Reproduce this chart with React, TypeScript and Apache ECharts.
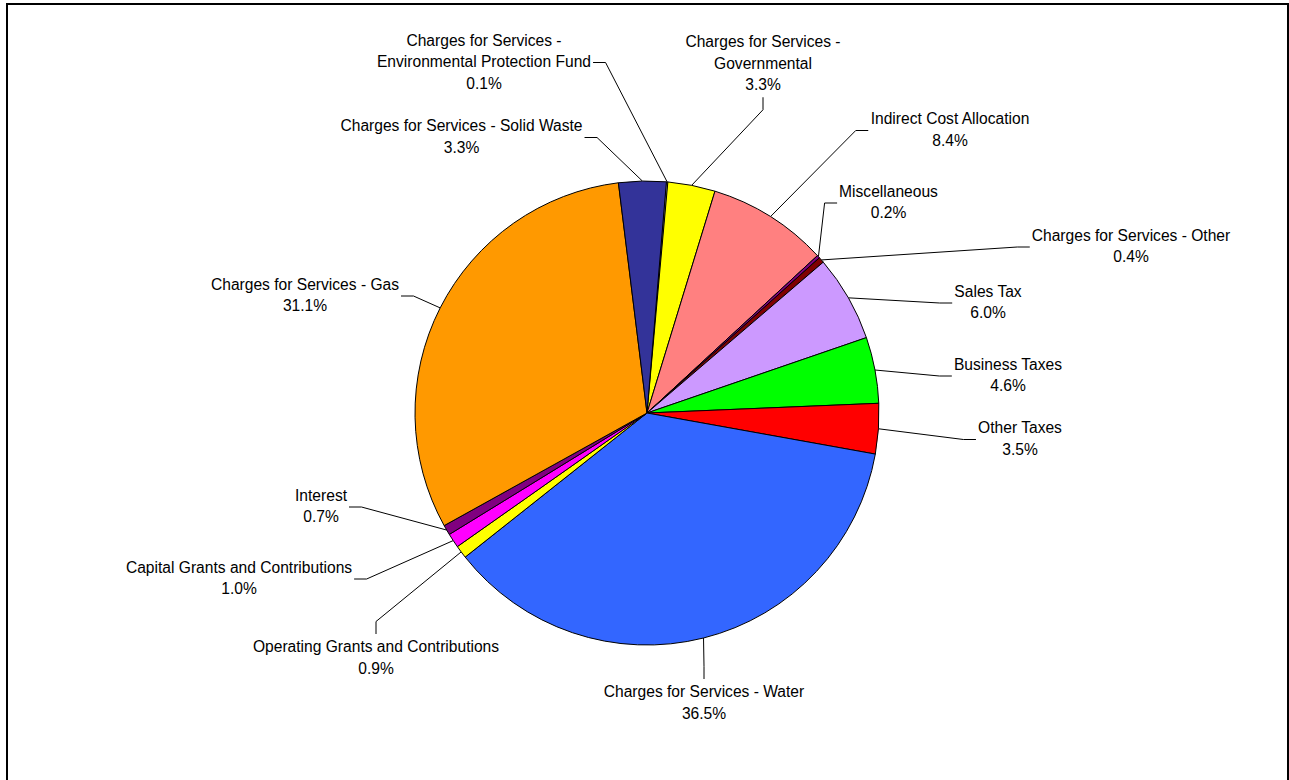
import React, { useEffect, useRef } from "react";
import * as echarts from "echarts";

// Slices, clockwise from the top
const NAMES = [
  "Charges for Services - Environmental Protection Fund",
  "Charges for Services - Governmental",
  "Indirect Cost Allocation",
  "Miscellaneous",
  "Charges for Services - Other",
  "Sales Tax",
  "Business Taxes",
  "Other Taxes",
  "Charges for Services - Water",
  "Operating Grants and Contributions",
  "Capital Grants and Contributions",
  "Interest",
  "Charges for Services - Gas",
  "Charges for Services - Solid Waste",
];
const VALUES = [0.1, 3.3, 8.4, 0.2, 0.4, 6.0, 4.6, 3.5, 36.5, 0.9, 1.0, 0.7, 31.1, 3.3];
const LABEL_NAMES = [
  "Charges for Services -\nEnvironmental Protection Fund",
  "Charges for Services -\nGovernmental",
  "Indirect Cost Allocation",
  "Miscellaneous",
  "Charges for Services - Other",
  "Sales Tax",
  "Business Taxes",
  "Other Taxes",
  "Charges for Services - Water",
  "Operating Grants and Contributions",
  "Capital Grants and Contributions",
  "Interest",
  "Charges for Services - Gas",
  "Charges for Services - Solid Waste",
];
const COLORS = [
  "#FFFFFF", "#FFFF00", "#FF8080", "#800080", "#800000", "#CC99FF", "#00FF00",
  "#FF0000", "#3366FF", "#FFFF00", "#FF00FF", "#800080", "#FF9900", "#333399",
];

// layout (label centres in px)
const LABEL_POS: [number, number][] = [
  [484, 61.5], [763, 63], [950, 129.5], [888.5, 202], [1131, 246], [988, 302],
  [1008, 375], [1020, 438.5], [704, 702.5], [376, 657.5], [239, 578], [321, 506],
  [305, 295], [461.5, 136.5],
];
const CX = 647;
const CY = 413;
const R = 232;
const START = 85.2; // echarts degrees
const OFFSET = 90 - START; // clockwise from 12 o'clock

function anchorOf(i: number): number[] {
  const total = VALUES.reduce((a, b) => a + b, 0);
  let cum = 0;
  for (let k = 0; k < i; k++) cum += VALUES[k];
  const mid = OFFSET + ((cum + VALUES[i] / 2) / total) * 360;
  const t = (mid * Math.PI) / 180;
  return [CX + R * Math.sin(t), CY - R * Math.cos(t)];
}

export default function App() {
  const ref = useRef<HTMLDivElement>(null);
  useEffect(() => {
    document.body.style.margin = "0";
    const chart = echarts.init(ref.current!, null, { renderer: "svg" });
    chart.setOption({
      animation: false,
      backgroundColor: "#FFFFFF",
      graphic: [
        {
          type: "rect",
          shape: { x: 7, y: 4, width: 1281, height: 800 },
          style: { fill: "none", stroke: "#000", lineWidth: 2 },
          silent: true,
        },
      ],
      series: [
        {
          type: "pie",
          center: [CX, CY],
          radius: R,
          startAngle: START,
          clockwise: true,
          avoidLabelOverlap: false,
          silent: true,
          data: NAMES.map((n, i) => ({
            name: n,
            value: VALUES[i],
            itemStyle: { color: COLORS[i] },
          })),
          itemStyle: { borderColor: "#000", borderWidth: 1 },
          label: {
            show: true,
            position: "outside",
            color: "#000",
            fontFamily: "Liberation Sans, Arial, sans-serif",
            fontSize: 15.6,
            lineHeight: 21.5,
            align: "center",
            overflow: "none",
            formatter: (p: any) => LABEL_NAMES[p.dataIndex] + "\n" + Number(p.value).toFixed(1) + "%",
          },
          labelLine: {
            show: true,
            smooth: false,
            lineStyle: { color: "#000", width: 1 },
          },
          labelLayout: (p: any) => {
            const i = p.dataIndex;
            const [lx, ly] = LABEL_POS[i];
            const w = p.labelRect.width;
            const h = p.labelRect.height;
            const a = anchorOf(i);
            let pts: number[][];
            if (a[0] >= lx - w / 2 && a[0] <= lx + w / 2) {
              const dir = a[1] > ly ? 1 : -1;
              const y0 = ly + dir * (h / 2 + 2);
              pts = [a, [lx, y0 + dir * 12.5], [lx, y0]];
            } else {
              const dir = a[0] > lx ? 1 : -1;
              const x0 = lx + dir * (w / 2 + 2);
              pts = [a, [x0 + dir * 12.5, ly + 1], [x0, ly + 1]];
            }
            return { x: lx, y: ly, align: "center", verticalAlign: "middle", labelLinePoints: pts };
          },
          emphasis: { disabled: true },
        },
      ],
    });
    return () => chart.dispose();
  }, []);
  return <div ref={ref} style={{ width: 1289, height: 780 }} />;
}
